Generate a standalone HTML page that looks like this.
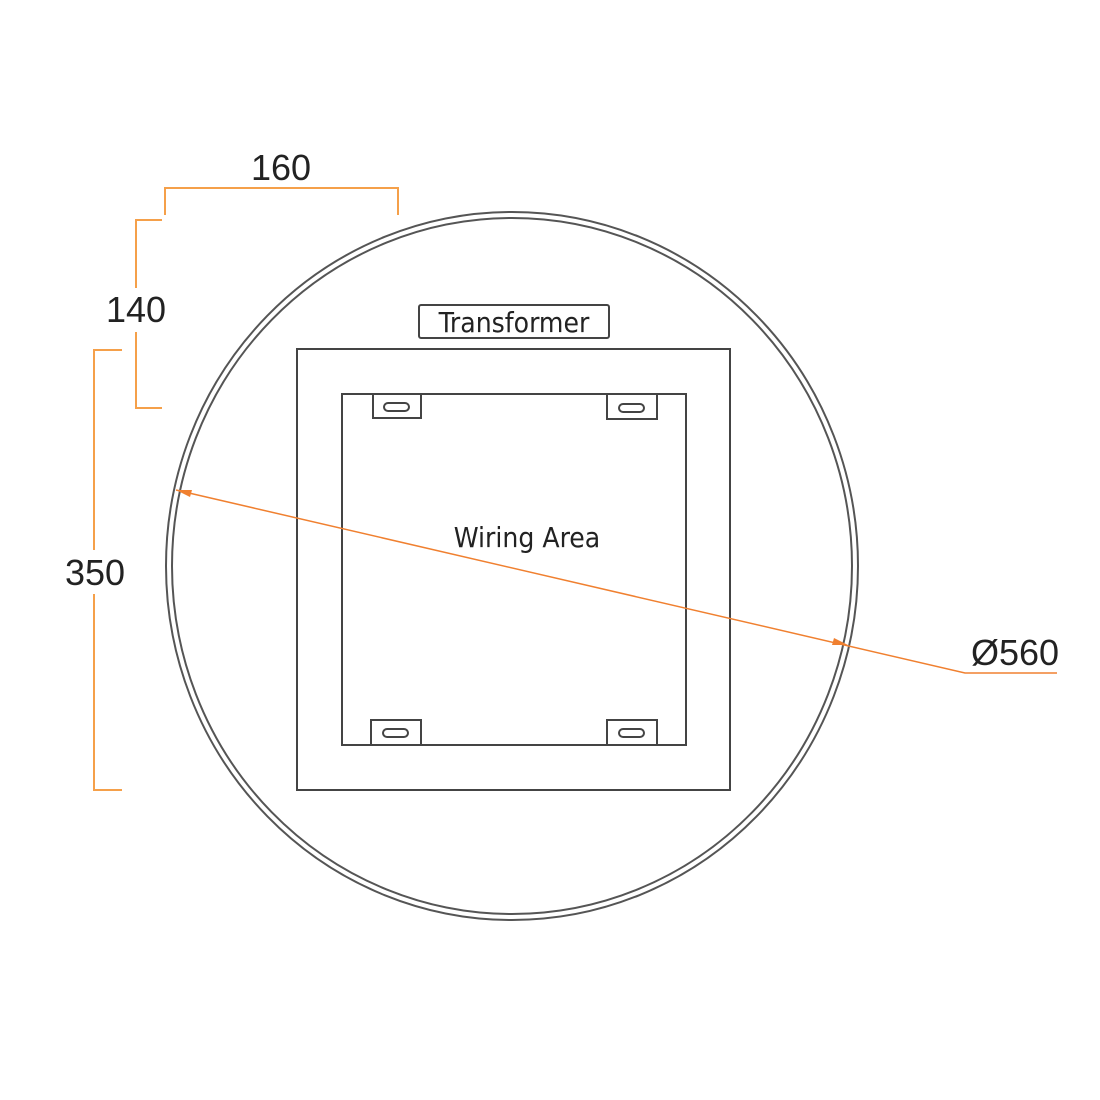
<!DOCTYPE html>
<html><head><style>html,body{margin:0;padding:0;background:#fff;}svg{display:block}</style></head>
<body>
<svg width="1100" height="1100" viewBox="0 0 1100 1100" xmlns="http://www.w3.org/2000/svg">
<g fill="none" stroke="#555" stroke-width="2">
<ellipse cx="512" cy="566" rx="346" ry="354"/>
<ellipse cx="512" cy="566" rx="340" ry="348"/>
</g>
<g fill="none" stroke="#444" stroke-width="2">
<rect x="297" y="349" width="433" height="441"/>
<rect x="342" y="394" width="344" height="351"/>
<rect x="419" y="305" width="190" height="33" rx="2"/>
<path d="M373 394 V418 H421 V394"/>
<path d="M607 394 V419 H657 V394"/>
<path d="M371 745 V720 H421 V745"/>
<path d="M607 745 V720 H657 V745"/>
<rect x="384" y="403" width="25" height="8" rx="4"/>
<rect x="619" y="404" width="25" height="8" rx="4"/>
<rect x="383" y="729" width="25" height="8" rx="4"/>
<rect x="619" y="729" width="25" height="8" rx="4"/>
</g>
<g fill="none" stroke="#f5a04a" stroke-width="2">
<path d="M165 215 V188 H398 V215"/>
<path d="M162 220 H136 V408 H162"/>
<path d="M122 350 H94 V790 H122"/>
</g>
<g stroke="#f08030" stroke-width="1.5" fill="none">
<path d="M176 490 L965 673 H1057"/>
</g>
<polygon points="176,490 192,490 190,497" fill="#f08030"/>
<polygon points="848,645 832,645 834,638" fill="#f08030"/>
<rect x="104" y="288" width="64" height="44" fill="#fff"/>
<rect x="62" y="550" width="66" height="44" fill="#fff"/>
<g font-family="'Liberation Sans',sans-serif" font-size="36" fill="#222" text-anchor="middle">
<text x="281" y="180">160</text>
<text x="136" y="322">140</text>
<text x="95" y="585">350</text>
<text x="1015" y="665">Ø560</text>
</g>
<g font-family="'Liberation Sans Narrow','DejaVu Sans Condensed','Liberation Sans',sans-serif" font-size="28" fill="#222" text-anchor="middle">
<text x="514" y="332">Transformer</text>
<text x="527" y="547">Wiring Area</text>
</g>
</svg>
</body></html>
